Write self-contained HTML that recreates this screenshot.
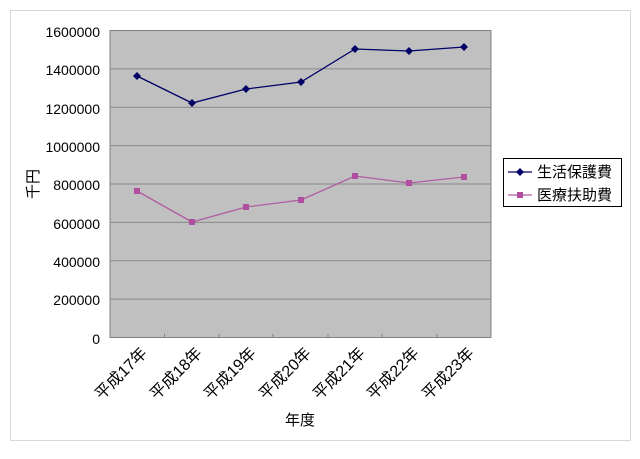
<!DOCTYPE html>
<html><head><meta charset="utf-8"><style>body{margin:0;background:#fff}</style></head><body>
<svg width="640" height="454" xmlns="http://www.w3.org/2000/svg" font-family="Liberation Sans, Noto Sans CJK JP, sans-serif">
<rect x="0" y="0" width="640" height="454" fill="#fff"/>
<rect x="10.5" y="10.5" width="620" height="430" fill="#fff" stroke="#d8d8d8"/>
<rect x="110" y="30.5" width="381" height="307" fill="#c0c0c0" stroke="#808080"/>
<g stroke="#888" stroke-width="1">
<line x1="110" x2="491" y1="68.9" y2="68.9"/><line x1="110" x2="491" y1="107.3" y2="107.3"/>
<line x1="110" x2="491" y1="145.6" y2="145.6"/><line x1="110" x2="491" y1="184" y2="184"/>
<line x1="110" x2="491" y1="222.4" y2="222.4"/><line x1="110" x2="491" y1="260.8" y2="260.8"/>
<line x1="110" x2="491" y1="299.1" y2="299.1"/>
</g>
<line x1="110" x2="491" y1="337.5" y2="337.5" stroke="#808080"/>
<g stroke="#808080"><line x1="164.5" x2="164.5" y1="334" y2="338"/><line x1="219" x2="219" y1="334" y2="338"/><line x1="273" x2="273" y1="334" y2="338"/><line x1="328" x2="328" y1="334" y2="338"/><line x1="382" x2="382" y1="334" y2="338"/><line x1="437" x2="437" y1="334" y2="338"/></g>
<g font-size="14" text-anchor="end" fill="#000">
<text x="100" y="37">1600000</text><text x="100" y="75">1400000</text><text x="100" y="114">1200000</text>
<text x="100" y="152">1000000</text><text x="100" y="190">800000</text><text x="100" y="229">600000</text>
<text x="100" y="267">400000</text><text x="100" y="305">200000</text><text x="100" y="344">0</text>
</g>
<g font-size="16" text-anchor="end">
<text transform="translate(148,354) rotate(-45)">平成17年</text>
<text transform="translate(203,354) rotate(-45)">平成18年</text>
<text transform="translate(257,354) rotate(-45)">平成19年</text>
<text transform="translate(312,354) rotate(-45)">平成20年</text>
<text transform="translate(366,354) rotate(-45)">平成21年</text>
<text transform="translate(420,354) rotate(-45)">平成22年</text>
<text transform="translate(475,354) rotate(-45)">平成23年</text>
</g>
<text x="300" y="425" font-size="15" text-anchor="middle">年度</text>
<text transform="translate(38,184) rotate(-90)" font-size="15" text-anchor="middle">千円</text>
<polyline fill="none" stroke="#000066" stroke-width="1.3" points="137,76 192,103 246,89 301,82 355,49 409,51 464,47"/>
<g fill="#000066">
<path d="M137,72l4,4l-4,4l-4,-4z"/><path d="M192,99l4,4l-4,4l-4,-4z"/><path d="M246,85l4,4l-4,4l-4,-4z"/><path d="M301,78l4,4l-4,4l-4,-4z"/><path d="M355,45l4,4l-4,4l-4,-4z"/><path d="M409,47l4,4l-4,4l-4,-4z"/><path d="M464,43l4,4l-4,4l-4,-4z"/>
</g>
<polyline fill="none" stroke="#b05ca0" stroke-width="1.3" points="137,191 192,222 246,207 301,200 355,176 409,183 464,177"/>
<g fill="#b04fa0">
<rect x="134" y="188" width="6" height="6"/><rect x="189" y="219" width="6" height="6"/><rect x="243" y="204" width="6" height="6"/><rect x="298" y="197" width="6" height="6"/><rect x="352" y="173" width="6" height="6"/><rect x="406" y="180" width="6" height="6"/><rect x="461" y="174" width="6" height="6"/>
</g>
<rect x="503.5" y="158.5" width="118" height="48" fill="#fff" stroke="#000"/>
<line x1="508" x2="532" y1="172" y2="172" stroke="#000066" stroke-width="1.3"/><path d="M520,168l4,4l-4,4l-4,-4z" fill="#000066"/>
<line x1="508" x2="532" y1="195" y2="195" stroke="#b05ca0" stroke-width="1.3"/><rect x="517" y="192" width="6" height="6" fill="#b04fa0"/>
<text x="537" y="177" font-size="15">生活保護費</text>
<text x="537" y="200" font-size="15">医療扶助費</text>
</svg>
</body></html>
